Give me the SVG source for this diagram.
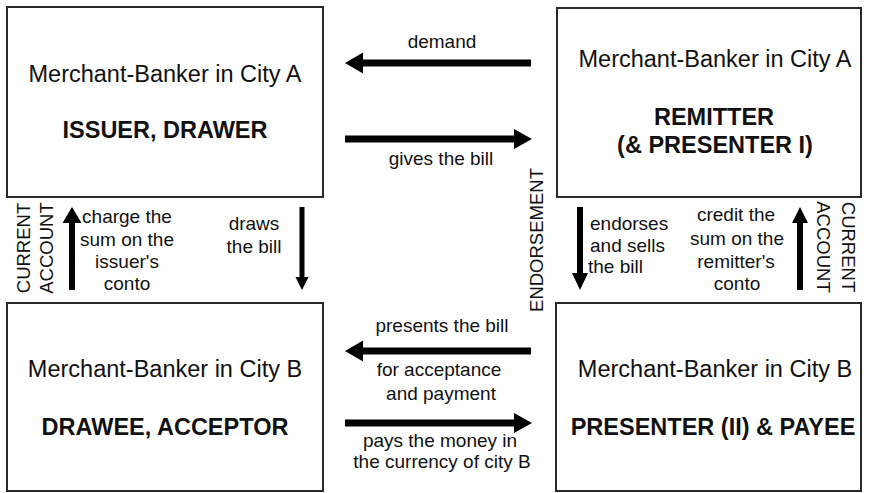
<svg xmlns="http://www.w3.org/2000/svg" width="869" height="493" viewBox="0 0 869 493">
<style>
.box{fill:#fff;stroke:#2a2a2a;stroke-width:2}
.t{font-family:"Liberation Sans",Arial,sans-serif;fill:#111}
.name{font-size:23.5px;text-anchor:middle}
.role{font-size:23.5px;font-weight:bold;text-anchor:middle}
.lbl{font-size:19px;text-anchor:middle}
.lbs{font-size:19px}
.v{font-size:18.5px;text-anchor:middle}
.arr{fill:#000}
</style>
<rect width="869" height="493" fill="#fff"/>
<g id="issuer">
<rect class="box" x="7" y="7" width="316" height="190"/>
<text class="t name" x="165" y="82">Merchant-Banker in City A</text>
<text class="t role" x="165" y="138">ISSUER, DRAWER</text>
</g>
<g id="remitter">
<rect class="box" x="557" y="8" width="304" height="189"/>
<text class="t name" x="715" y="67">Merchant-Banker in City A</text>
<text class="t role" x="714" y="125">REMITTER</text>
<text class="t role" x="715" y="153">(&amp; PRESENTER I)</text>
</g>
<g id="drawee">
<rect class="box" x="7" y="303" width="316" height="188"/>
<text class="t name" x="165" y="377">Merchant-Banker in City B</text>
<text class="t role" x="165" y="435">DRAWEE, ACCEPTOR</text>
</g>
<g id="payee">
<rect class="box" x="556" y="303" width="305" height="188"/>
<text class="t name" x="715" y="377">Merchant-Banker in City B</text>
<text class="t role" x="713" y="435">PRESENTER (II) &amp; PAYEE</text>
</g>
<g id="connectors">
<polygon class="arr" points="531,59.5 363,59.5 363,52.5 345,63 363,73.5 363,66.5 531,66.5"/>
<polygon class="arr" points="345,135.5 514,135.5 514,129 532,139 514,149 514,142.5 345,142.5"/>
<polygon class="arr" points="531,347.5 363,347.5 363,340.5 345,351 363,361.5 363,354.5 531,354.5"/>
<polygon class="arr" points="345,419.5 514,419.5 514,413 532,423 514,433 514,426.5 345,426.5"/>
<polygon class="arr" points="69,290 69,223 62.5,223 72,207 81.5,223 75,223 75,290"/>
<polygon class="arr" points="299.5,207 299.5,277 295.5,277 302,290 308.5,277 304.5,277 304.5,207"/>
<polygon class="arr" points="577,207 577,273 572,273 580,290 588,273 583,273 583,207"/>
<polygon class="arr" points="797,290 797,223 792,223 800,207 808,223 803,223 803,290"/>
</g>
<g id="labels">
<text class="t lbl" x="442" y="48">demand</text>
<text class="t lbl" x="441" y="165">gives the bill</text>
<text class="t lbl" x="127" y="223">charge the</text>
<text class="t lbl" x="127" y="246">sum on the</text>
<text class="t lbl" x="127" y="268">issuer's</text>
<text class="t lbl" x="127" y="290">conto</text>
<text class="t lbl" x="254" y="230">draws</text>
<text class="t lbl" x="254" y="253">the bill</text>
<text class="t lbs" x="590" y="230">endorses</text>
<text class="t lbs" x="590" y="252">and sells</text>
<text class="t lbs" x="588" y="273">the bill</text>
<text class="t lbl" x="736" y="221">credit the</text>
<text class="t lbl" x="737" y="245">sum on the</text>
<text class="t lbl" x="736" y="268">remitter's</text>
<text class="t lbl" x="737" y="290">conto</text>
<text class="t lbl" x="442" y="332">presents the bill</text>
<text class="t lbl" x="439" y="376">for acceptance</text>
<text class="t lbl" x="441" y="400">and payment</text>
<text class="t lbl" x="440" y="447">pays the money in</text>
<text class="t lbl" x="442" y="468">the currency of city B</text>
<text class="t v" transform="translate(30,248) rotate(-90)">CURRENT</text>
<text class="t v" transform="translate(53,248) rotate(-90)">ACCOUNT</text>
<text class="t v" transform="translate(543,240) rotate(-90)">ENDORSEMENT</text>
<text class="t v" transform="translate(817,247) rotate(90)">ACCOUNT</text>
<text class="t v" transform="translate(842,247) rotate(90)">CURRENT</text>
</g>
</svg>
